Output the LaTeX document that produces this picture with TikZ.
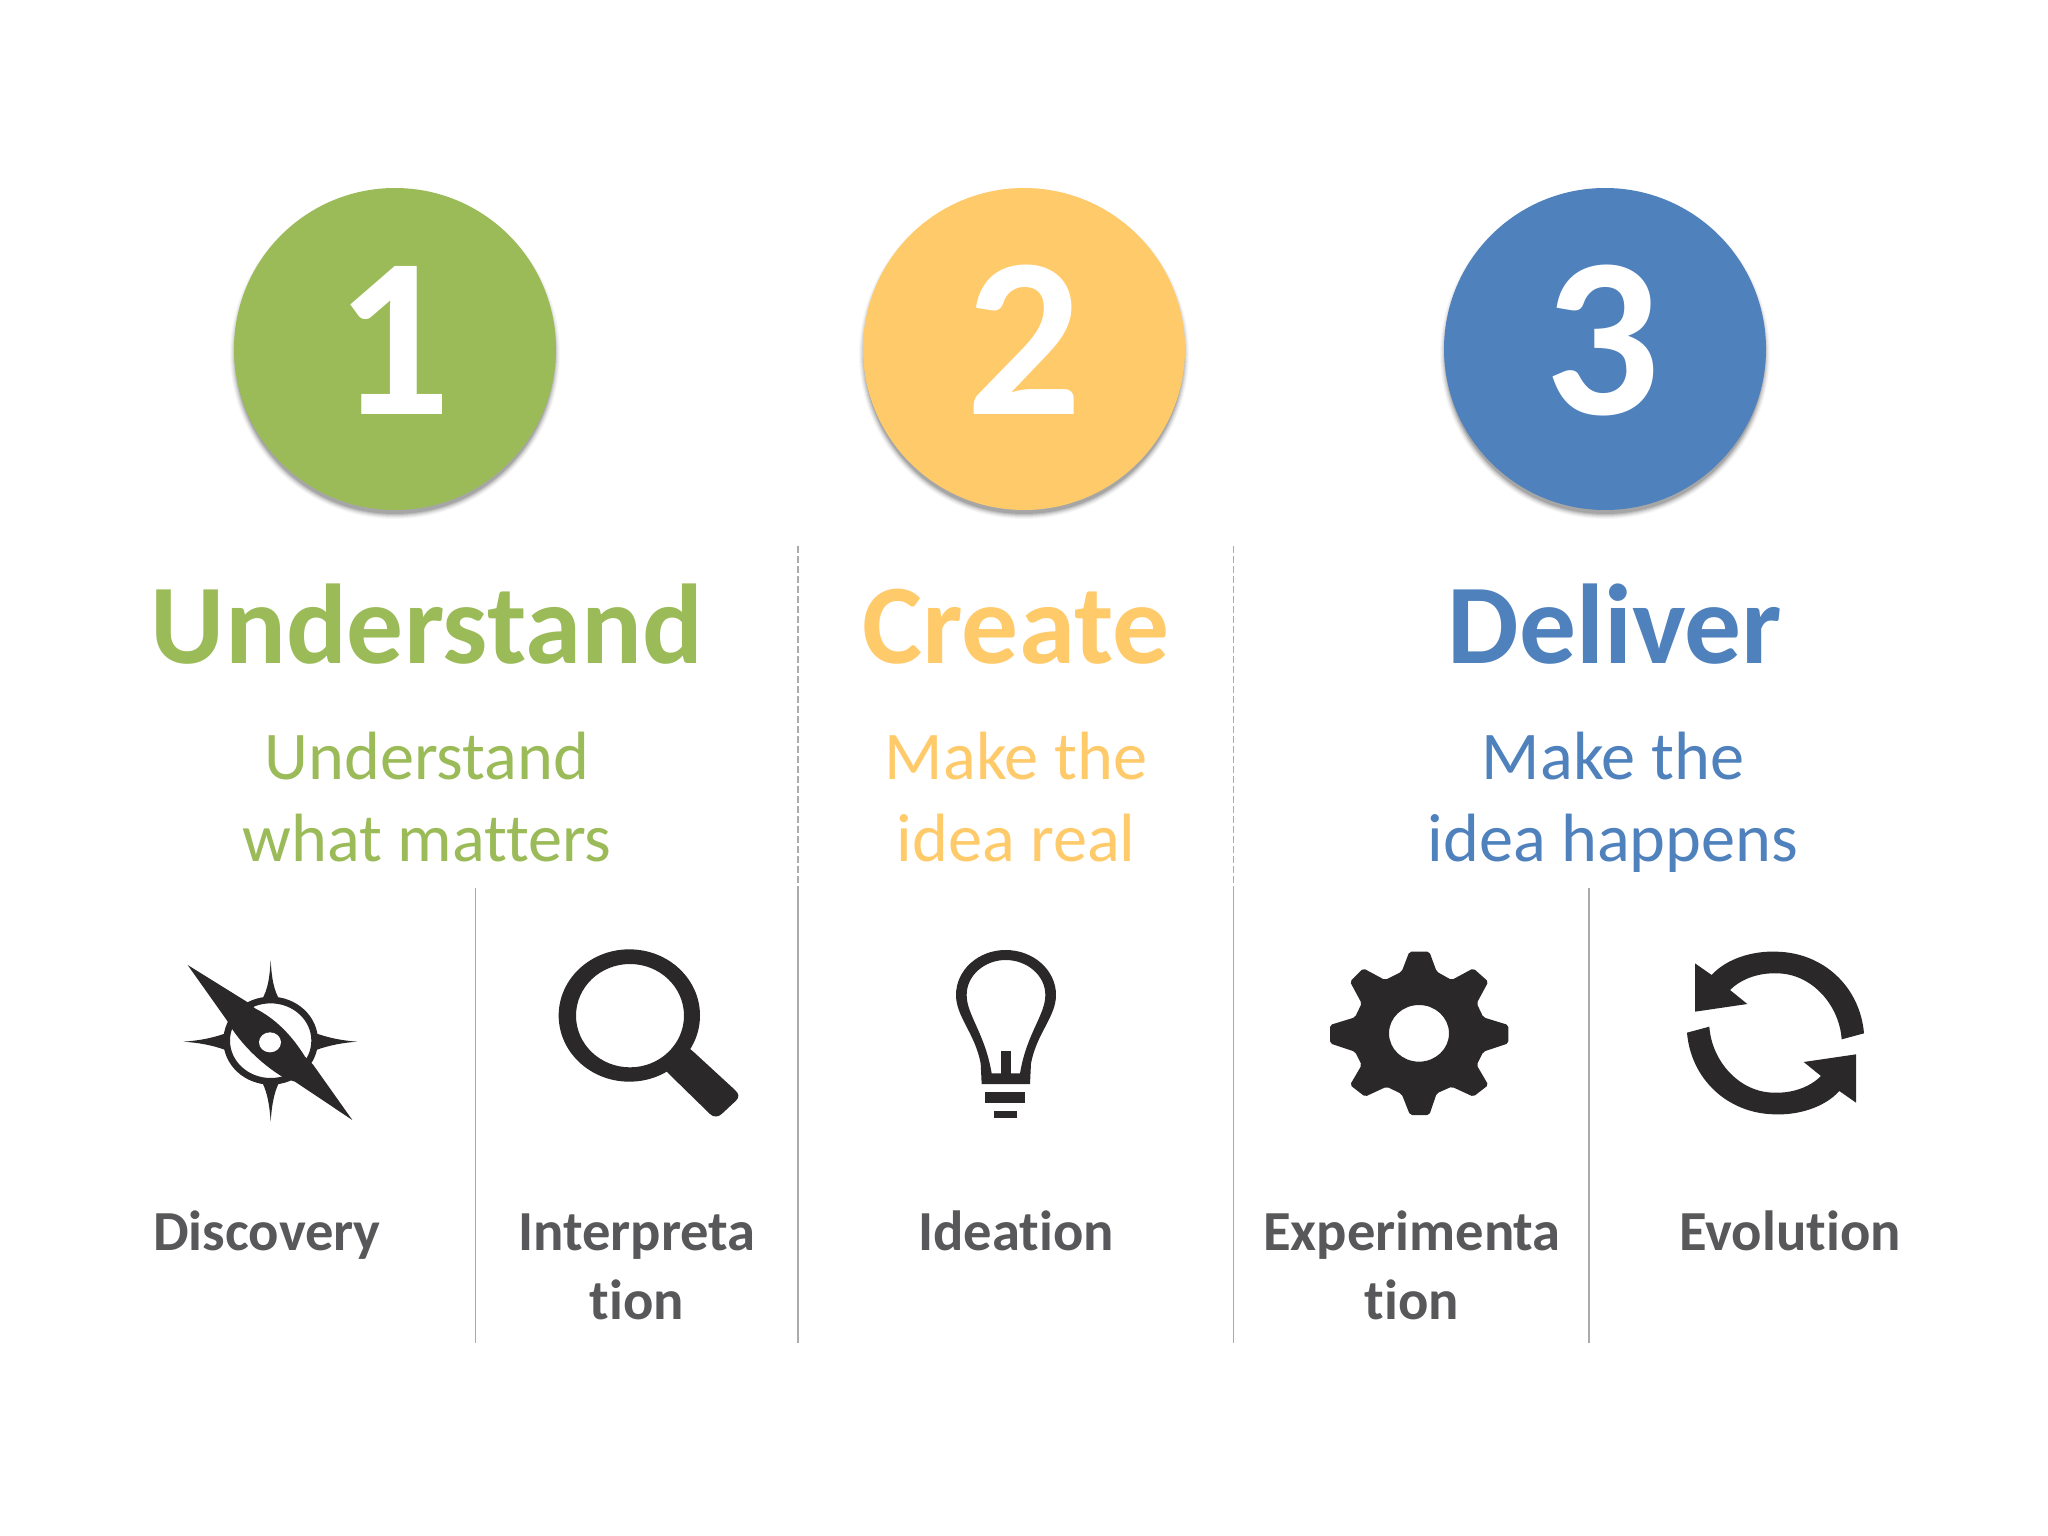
\documentclass[tikz,border=0pt]{standalone}
\usepackage{fontspec}
\setmainfont[Ligatures=NoCommon]{Carlito}
\definecolor{cgreen}{HTML}{9BBB59}
\definecolor{corange}{HTML}{FFCA69}
\definecolor{cblue}{HTML}{4F81BD}
\definecolor{clabel}{HTML}{58585A}
\definecolor{cicon}{HTML}{2A2829}
\definecolor{crule}{HTML}{ABABAB}
\newcommand{\fsz}[1]{\fontsize{#1}{#1}\selectfont}
\tikzset{
  base text/.style={inner sep=0pt,anchor=base,align=center},
  digit/.style={base text,text=white,font=\bfseries\fsz{228}},
  heading/.style={base text,font=\bfseries\fsz{113.5}},
  subhead/.style={base text,font=\fsz{68.3}},
  itemlabel/.style={base text,text=clabel,font=\bfseries\fsz{56.6}},
  solidrule/.style={draw=crule,line width=1.3pt},
  dashrule/.style={draw=crule,line width=1.1pt,dash pattern=on 7pt off 3pt},
  icon/.style={fill=cicon,draw=none},
  third/.style={x=0.33333pt,y=-0.33333pt},
}
\newcommand{\bigdisc}[2]{%
  \foreach \r/\o in {165/.03,164/.04,163/.05,162/.07,161/.09,160/.12}{\fill[black,opacity=\o] (#1,354) circle[radius=\r];}
  \fill[#2] (#1,349) circle[radius=161];
}
\begin{document}
\begin{tikzpicture}[x=1pt,y=-1pt]
\useasboundingbox (0,0) rectangle (2048,1536);
\fill[white] (0,0) rectangle (2048,1536);
% discs
\bigdisc{395}{cgreen}
\bigdisc{1024}{corange}
\bigdisc{1605}{cblue}
\node[digit] (d1) at (393.5,414) {1};
\node[digit] (d2) at (1024,414) {2};
\node[digit] (d3) at (1602,414) {3};
% headings
\node[heading,text=cgreen] (h1) at (427,663) {Understand};
\node[heading,text=corange] (h2) at (1016,663) {Create};
\node[heading,text=cblue] (h3) at (1615,663) {Deliver};
% sub headings
\node[subhead,text=cgreen] (s1a) at (427,779) {Understand};
\node[subhead,text=cgreen] (s1b) at (427,861) {what matters};
\node[subhead,text=corange] (s2a) at (1016,779) {Make the};
\node[subhead,text=corange] (s2b) at (1016,861) {idea real};
\node[subhead,text=cblue] (s3a) at (1613,779) {Make the};
\node[subhead,text=cblue] (s3b) at (1613,861) {idea happens};
% labels
\node[itemlabel] (l1) at (267,1250) {Discovery};
\node[itemlabel] (l2a) at (637,1250) {Interpreta};
\node[itemlabel] (l2b) at (637,1319) {tion};
\node[itemlabel] (l3) at (1016,1250) {Ideation};
\node[itemlabel] (l4a) at (1412,1250) {Experimenta};
\node[itemlabel] (l4b) at (1412,1319) {tion};
\node[itemlabel] (l5) at (1790,1250) {Evolution};
% rules
\draw[dashrule] (798,546) -- (798,888);
\draw[dashrule] (1233.5,546) -- (1233.5,888);
\draw[solidrule] (798,888) -- (798,1343);
\draw[solidrule] (1233.5,888) -- (1233.5,1343);
\draw[solidrule] (475.5,888) -- (475.5,1343);
\draw[solidrule] (1589,888) -- (1589,1343);
% compass
\begin{scope}[shift={(175,950)},third]
  \fill[icon,even odd rule] (287,272) ellipse[x radius=142,y radius=132] (287,272) ellipse[x radius=122,y radius=112];
  \fill[icon] (287,30) .. controls (284,85) and (278,120) .. (260,150) -- (314,150) .. controls (296,120) and (290,85) .. (287,30) -- cycle;
  \fill[icon] (287,515) .. controls (284,470) and (278,430) .. (262,398) -- (312,398) .. controls (296,430) and (290,470) .. (287,515) -- cycle;
  \fill[icon] (25,275) .. controls (70,272) and (110,265) .. (152,250) -- (152,300) .. controls (110,285) and (70,278) .. (25,275) -- cycle;
  \fill[icon] (547,275) .. controls (505,272) and (465,265) .. (423,250) -- (423,300) .. controls (465,285) and (505,278) .. (547,275) -- cycle;
  \fill[icon] (38,45) -- (215,155) -- (240,175) .. controls (300,205) and (350,255) .. (390,320) -- (415,345) -- (532,510) -- (360,395) -- (330,385) .. controls (270,350) and (210,295) .. (170,235) -- (155,210) -- cycle;
  \fill[white] (285,277) ellipse[x radius=33,y radius=30];
\end{scope}
% magnifier
\begin{scope}[shift={(550,940)},third]
  \fill[icon,even odd rule] (238,226.5) ellipse[x radius=212,y radius=198.5] (240,227) ellipse[x radius=162,y radius=155];
  \fill[icon] (400,310) -- (430,335) -- (555,450) .. controls (568,462) and (568,472) .. (558,482) -- (515,522) .. controls (505,532) and (490,532) .. (480,522) -- (355,400) -- (330,370) -- cycle;
\end{scope}
% bulb
\begin{scope}[shift={(940,940)},third]
  \fill[icon,even odd rule] (197,30) .. controls (115,30) and (48,90) .. (48,165) .. controls (48,230) and (105,280) .. (122,370) -- (125,432) -- (270,432) -- (273,370) .. controls (290,280) and (348,230) .. (348,165) .. controls (348,90) and (280,30) .. (197,30) -- cycle
    (197,60) .. controls (135,60) and (80,105) .. (80,165) .. controls (80,225) and (135,280) .. (155,400) -- (240,400) .. controls (260,280) and (316,225) .. (316,165) .. controls (316,105) and (260,60) .. (197,60) -- cycle;
  \fill[icon] (182,332) rectangle (213,405);
  \fill[icon] (135,455) rectangle (255,490);
  \fill[icon] (162,513) rectangle (230,534);
\end{scope}
% gear
\begin{scope}[shift={(1320,940)},third]
  \fill[icon,even odd rule,rounded corners=2pt] (268,35) -- (328,35) -- (350,95) -- (395,120) -- (460,85) -- (505,125) -- (470,190) -- (490,232) -- (565,255) -- (565,310) -- (490,335) -- (470,375) -- (505,435) -- (460,470) -- (395,440) -- (350,460) -- (328,525) -- (270,525) -- (245,462) -- (200,440) -- (135,470) -- (90,435) -- (125,375) -- (105,335) -- (30,310) -- (30,255) -- (105,232) -- (125,190) -- (90,125) -- (130,85) -- (195,120) -- (245,95) -- cycle
    (297,280) ellipse[x radius=90,y radius=85];
\end{scope}
% refresh
\begin{scope}[shift={(1670,930)},third]
  \foreach \a in {0,180}{
    \fill[icon,rotate around={\a:(316.5,309)}] (125,135) .. controls (170,85) and (250,62) .. (320,65) .. controls (460,68) and (570,170) .. (582,310) -- (515,328) .. controls (508,225) and (425,130) .. (320,130) .. controls (260,128) and (210,150) .. (180,180) -- (232,222) -- (75,245) -- (75,100) -- cycle;
  }
\end{scope}
\end{tikzpicture}
\end{document}
